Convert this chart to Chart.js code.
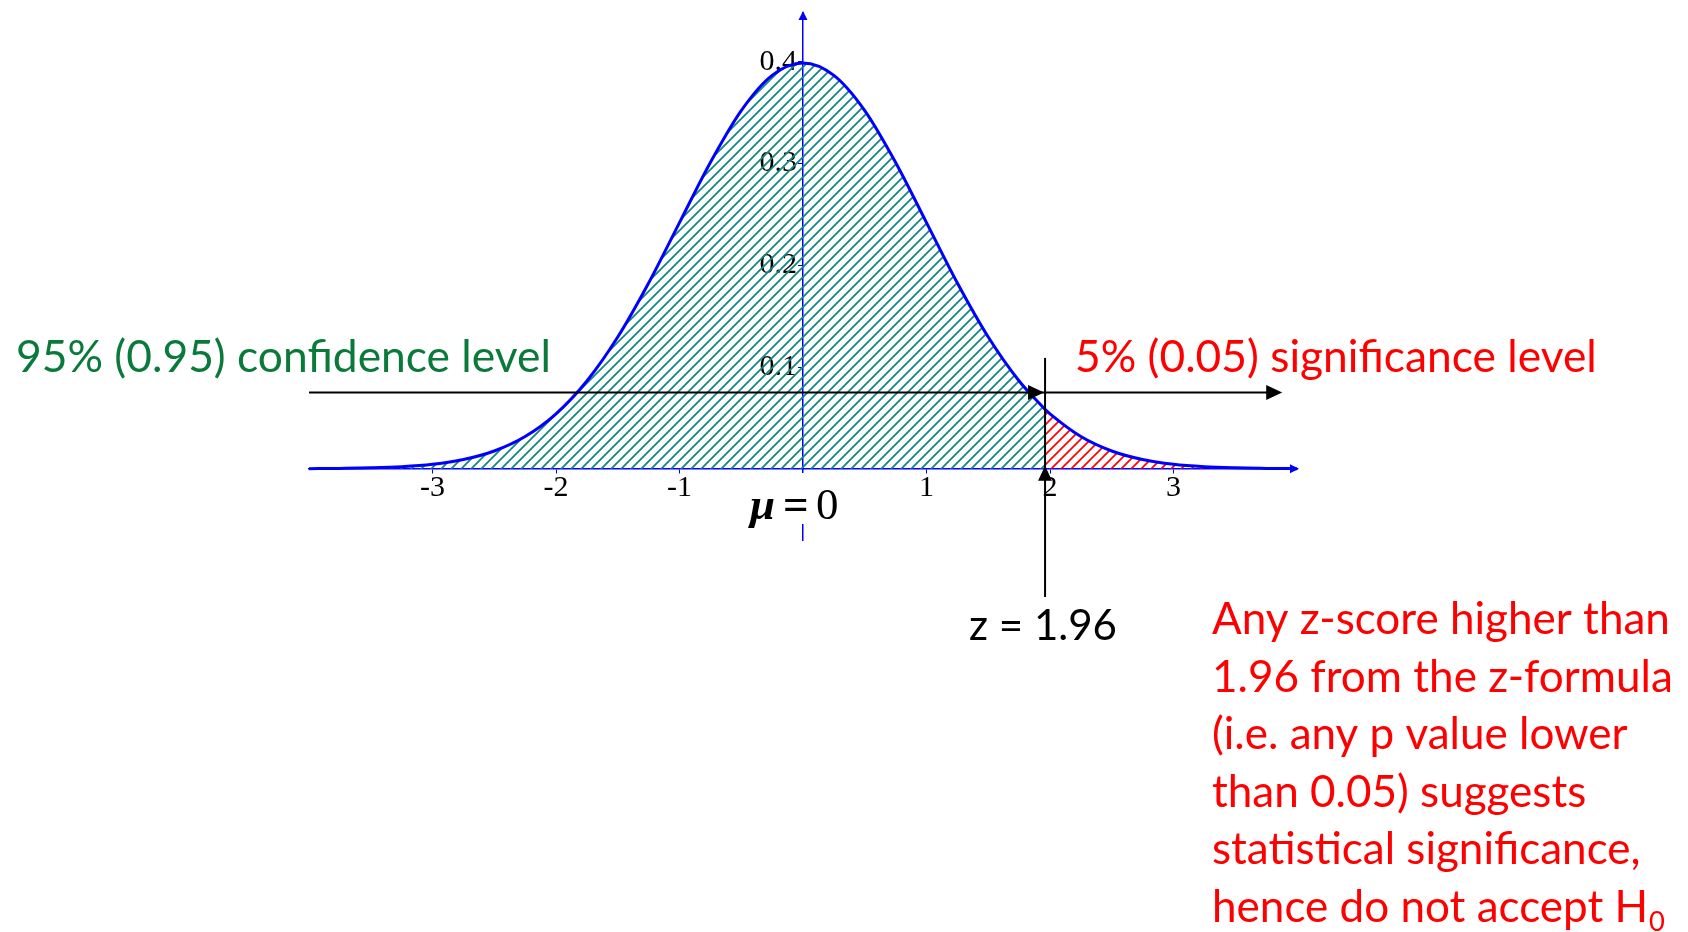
<!DOCTYPE html>
<html>
<head>
<meta charset="utf-8">
<script src="https://cdn.jsdelivr.net/npm/chart.js@4.4.1/dist/chart.umd.min.js"></script>
<style>
html,body{margin:0;padding:0;background:#ffffff;overflow:hidden}
canvas{display:block}
</style>
</head>
<body>
<canvas id="c" width="1688" height="932"></canvas>
<script>
// ---- data ----
const zValues = [-4, -3.75, -3.5, -3.25, -3, -2.75, -2.5, -2.25, -2, -1.75, -1.5, -1.25, -1, -0.75, -0.5, -0.25, 0, 0.25, 0.5, 0.75, 1, 1.25, 1.5, 1.75, 1.96, 2, 2.25, 2.5, 2.75, 3, 3.25, 3.5, 3.75, 4];
const density = [0.0001, 0.0004, 0.0009, 0.002, 0.0044, 0.0091, 0.0175, 0.0317, 0.054, 0.0863, 0.1295, 0.1826, 0.242, 0.3011, 0.3521, 0.3867, 0.3989, 0.3867, 0.3521, 0.3011, 0.242, 0.1826, 0.1295, 0.0863, 0.0584, 0.054, 0.0317, 0.0175, 0.0091, 0.0044, 0.002, 0.0009, 0.0004, 0.0001];
const xTickValues = [-3, -2, -1, 1, 2, 3];
const yTickValues = [0.1, 0.2, 0.3, 0.4];
const zCritical = 1.96;
const thresholdLevel = 0.075;
const confidenceText = '95% (0.95) confidence level';
const significanceText = '5% (0.05) significance level';
const zText = 'z = 1.96';
const noteLines = ['Any z-score higher than', '1.96 from the z-formula', '(i.e. any p value lower', 'than 0.05) suggests', 'statistical significance,', 'hence do not accept H'];
const noteSubscript = '0';

// ---- styles ----
const BLUE = '#0000ff';
const TEAL = '#138783';
const RED = '#ff0000';
const GREEN = '#0a7a3b';
const SANS = 'Lato, "Open Sans", sans-serif';
const SERIF = '"Liberation Serif", "DejaVu Serif", serif';

function hatch(color, size, lw) {
  const c = document.createElement('canvas');
  c.width = size; c.height = size;
  const g = c.getContext('2d');
  g.strokeStyle = color; g.lineWidth = lw;
  g.beginPath();
  g.moveTo(-2, size + 2); g.lineTo(size + 2, -2);
  g.moveTo(-2, 2); g.lineTo(2, -2);
  g.moveTo(size - 2, size + 2); g.lineTo(size + 2, size - 2);
  g.stroke();
  return g.createPattern(c, 'repeat');
}

const points = zValues.map((z, i) => ({x: z, y: density[i]}));
const leftPts = points.filter(p => p.x <= zCritical);
const rightPts = points.filter(p => p.x >= zCritical);

function fitSize(ctx, text, font, targetW) {
  ctx.font = font(48);
  return 48 * targetW / ctx.measureText(text).width;
}

const overlay = {
  id: 'overlay',
  afterDraw(chart) {
    const ctx = chart.ctx;
    const xs = chart.scales.x, ys = chart.scales.y;
    const X = v => xs.getPixelForValue(v), Y = v => ys.getPixelForValue(v);
    ctx.save();
    // axis arrowheads
    ctx.fillStyle = BLUE;
    const x0 = X(0), y0 = Y(0);
    ctx.beginPath();
    ctx.moveTo(x0, ys.top - 2); ctx.lineTo(x0 - 4.5, ys.top + 7); ctx.lineTo(x0 + 4.5, ys.top + 7); ctx.closePath(); ctx.fill();
    ctx.beginPath();
    ctx.moveTo(xs.right + 2, y0); ctx.lineTo(xs.right - 7, y0 - 4.5); ctx.lineTo(xs.right - 7, y0 + 4.5); ctx.closePath(); ctx.fill();

    // threshold arrow line
    const yl = Y(thresholdLevel);
    const xc = X(zCritical);
    const xEnd = X(3.88);
    ctx.strokeStyle = '#000'; ctx.fillStyle = '#000'; ctx.lineWidth = 2;
    ctx.beginPath(); ctx.moveTo(xs.left, yl); ctx.lineTo(xEnd - 4, yl); ctx.stroke();
    function arrowRight(tx, ty) {
      ctx.beginPath(); ctx.moveTo(tx, ty); ctx.lineTo(tx - 16, ty - 7.5); ctx.lineTo(tx - 16, ty + 7.5); ctx.closePath(); ctx.fill();
    }
    arrowRight(xc - 1, yl);
    arrowRight(xEnd, yl);
    // vertical z line
    ctx.beginPath(); ctx.moveTo(xc, Y(0.109)); ctx.lineTo(xc, Y(-0.126)); ctx.stroke();
    ctx.beginPath(); ctx.moveTo(xc, y0 - 3); ctx.lineTo(xc - 7, y0 + 12); ctx.lineTo(xc + 7, y0 + 12); ctx.closePath(); ctx.fill();

    // mu = 0 label (white box interrupts the y axis)
    ctx.fillStyle = '#fff';
    ctx.fillRect(x0 - 6, 473, 12, 51);
    ctx.fillStyle = '#000';
    ctx.textBaseline = 'alphabetic'; ctx.textAlign = 'left';
    ctx.font = 'italic bold 45px ' + SERIF; ctx.fillText('\u03bc', 750, 519);
    ctx.font = 'bold 45px ' + SERIF; ctx.fillText('=', 783, 519);
    ctx.font = '45px ' + SERIF; ctx.fillText('0', 816, 519);

    // annotations
    const f = s => `${s}px ${SANS}`;
    ctx.fillStyle = GREEN;
    ctx.font = f(fitSize(ctx, confidenceText, f, 535));
    ctx.fillText(confidenceText, 16, 372);
    ctx.fillStyle = RED;
    ctx.font = f(fitSize(ctx, significanceText, f, 522));
    ctx.fillText(significanceText, 1075, 372);
    ctx.fillStyle = '#000';
    ctx.font = f(fitSize(ctx, zText, f, 148));
    ctx.fillText(zText, 969, 640);
    ctx.fillStyle = RED;
    const ns = fitSize(ctx, noteLines[1], f, 461);
    ctx.font = f(ns);
    noteLines.forEach((t, i) => ctx.fillText(t, 1212, 634 + i * 57.6));
    const lastW = ctx.measureText(noteLines[noteLines.length - 1]).width;
    ctx.font = f(ns * 0.62);
    ctx.fillText(noteSubscript, 1212 + lastW + 1, 634 + 5 * 57.6 + 9);
    ctx.restore();
  }
};

new Chart(document.getElementById('c'), {
  type: 'line',
  data: {
    datasets: [
      {data: leftPts, borderColor: BLUE, borderWidth: 3, fill: 'origin', backgroundColor: hatch(TEAL, 10, 1.8), pointRadius: 0, cubicInterpolationMode: 'monotone'},
      {data: rightPts, borderColor: BLUE, borderWidth: 3, fill: 'origin', backgroundColor: hatch(RED, 10, 1.7), pointRadius: 0, cubicInterpolationMode: 'monotone'}
    ]
  },
  options: {
    responsive: false,
    animation: false,
    devicePixelRatio: 1,
    layout: {padding: {left: 309, right: 391, top: 13, bottom: 392}},
    plugins: {legend: {display: false}, tooltip: {enabled: false}},
    scales: {
      x: {
        type: 'linear', min: -4, max: 4, position: {y: 0}, z: 1,
        afterBuildTicks: s => { s.ticks = xTickValues.map(v => ({value: v})); },
        grid: {display: true, drawOnChartArea: false, drawTicks: true, tickLength: 4, color: BLUE, lineWidth: 1},
        border: {display: true, color: BLUE, width: 1.5},
        ticks: {font: {family: SERIF, size: 30, lineHeight: 1.0}, color: '#000', padding: 0, maxRotation: 0, autoSkip: false, callback: v => String(v)}
      },
      y: {
        type: 'linear', min: -0.07, max: 0.448, position: {x: 0}, z: 1,
        afterBuildTicks: s => { s.ticks = yTickValues.map(v => ({value: v})); },
        grid: {display: true, drawOnChartArea: false, drawTicks: true, tickLength: 4, color: BLUE, lineWidth: 1},
        border: {display: true, color: BLUE, width: 1.5},
        ticks: {font: {family: SERIF, size: 30, lineHeight: 0.4}, color: '#000', padding: 7, autoSkip: false, callback: v => v.toFixed(1) + '\u2009'}
      }
    }
  },
  plugins: [overlay]
});
</script>
</body>
</html>
